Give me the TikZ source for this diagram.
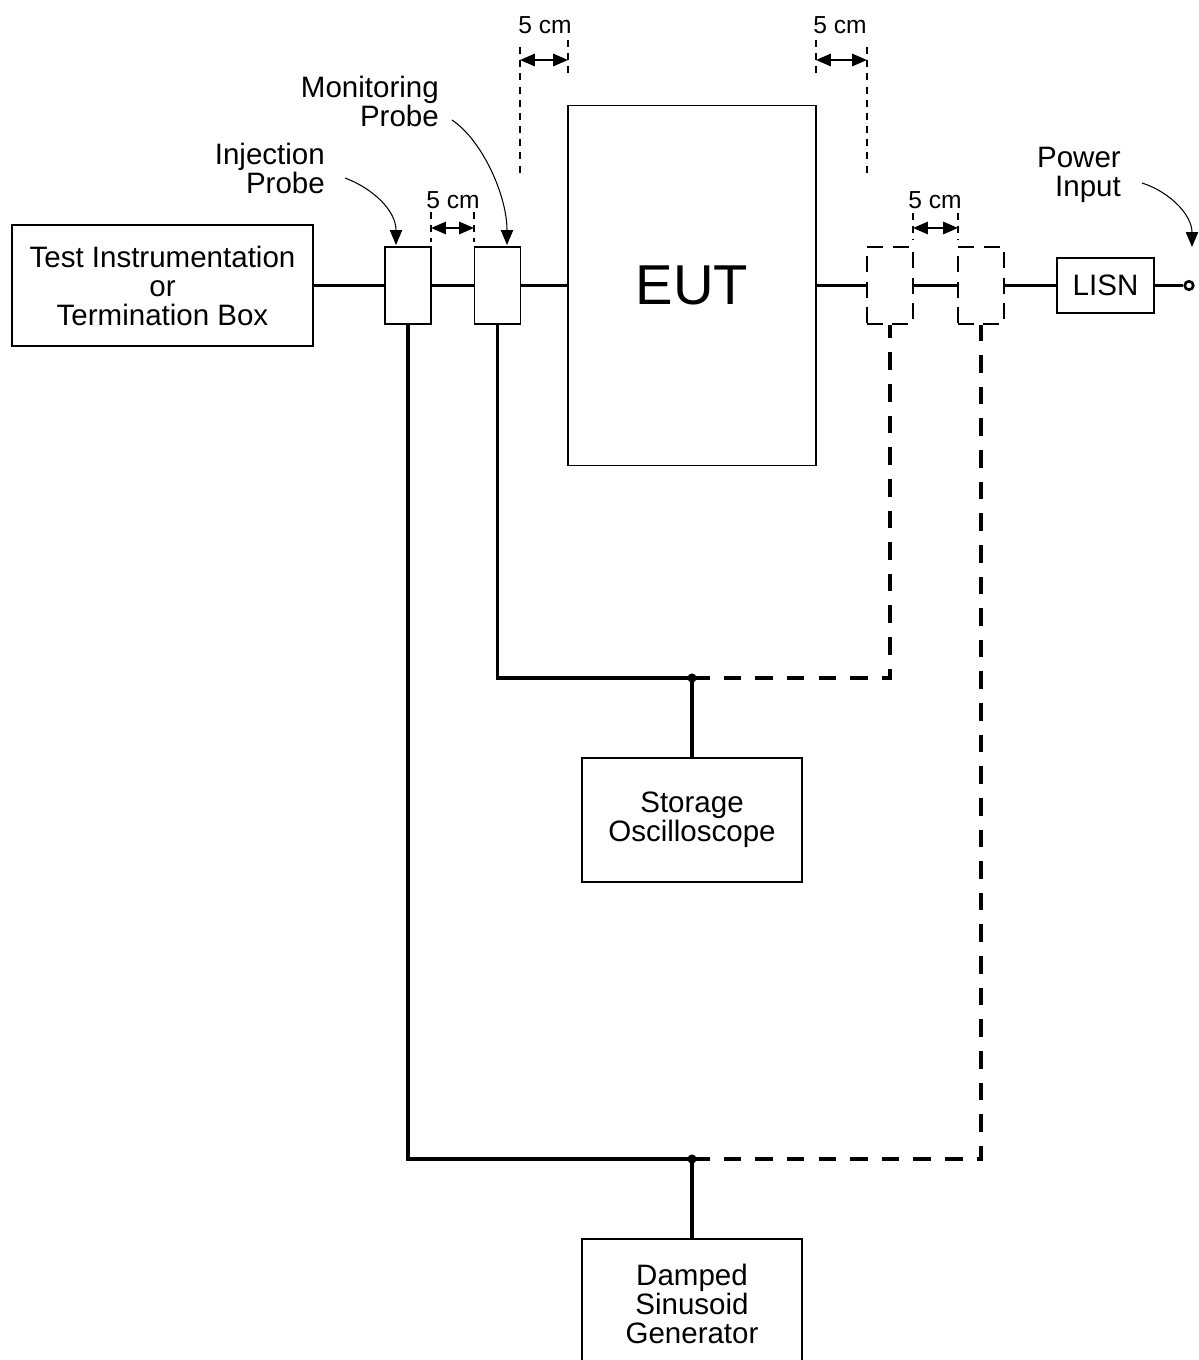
\documentclass[tikz,border=0pt]{standalone}
\usepackage{fontspec}
\setmainfont{Liberation Sans}
\usetikzlibrary{arrows.meta}

\tikzset{
  box/.style={draw,line width=1pt,inner sep=0pt,align=center,fill=white},
  probe/.style={box,minimum width=0.92cm,minimum height=1.54cm},
  dashprobe/.style={probe,line width=1.2pt,dash pattern=on 9pt off 5.5pt},
  wire/.style={line width=2.1pt},
  cable/.style={line width=2pt,dash pattern=on 10pt off 8pt},
  dimline/.style={line width=0.6pt,dash pattern=on 4pt off 3.5pt},
  dimarrow/.style={line width=1.2pt,{Triangle[length=8.5pt,width=7pt]}-{Triangle[length=8.5pt,width=7pt]}},
  pointer/.style={line width=0.6pt,-{Triangle[length=8.5pt,width=7pt]}},
  dimtext/.style={font=\fontsize{14}{14}\selectfont}
}

\begin{document}
\begin{tikzpicture}[line cap=butt,line join=miter,x=0.02cm,y=-0.02cm,font=\fontsize{16.8}{16.5}\selectfont]
		\clip(0,0) rectangle (1198,1360);
		% units and equipment
		\node[box,minimum width=6.02cm,minimum height=2.42cm] (test) at (162.5,285.5) {Test Instrumentation\\or\\Termination Box};
		\node[probe] (inj) at (408,285.5) {};
		\node[probe] (mon) at (497.5,285.5) {};
		\node[box,minimum width=4.96cm,minimum height=7.2cm,font=\fontsize{32}{32}\selectfont] (eut) at (692,285.5) {EUT};
		\node[dashprobe] (dpa) at (890,285.5) {};
		\node[dashprobe] (dpb) at (981,285.5) {};
		\node[box,minimum width=1.94cm,minimum height=1.1cm] (lisn) at (1105.5,285.5) {LISN};
		\node[circle,draw,line width=1.5pt,fill=white,inner sep=0pt,minimum size=0.17cm] (term) at (1189,285.5) {};
		\node[box,minimum width=4.4cm,minimum height=2.48cm] (scope) at (692,820) {Storage\\Oscilloscope};
		\node[box,minimum width=4.4cm,minimum height=2.6cm] (gen) at (692,1304) {Damped\\Sinusoid\\Generator};
		\coordinate (jo) at (scope.north |- 0,678);
		\coordinate (jg) at (gen.north |- 0,1159);
		% cables
		\draw[wire] (test) -- (inj);
		\draw[wire] (inj) -- (mon);
		\draw[wire] (mon) -- (eut);
		\draw[wire] (eut) -- (dpa);
		\draw[wire] (dpa) -- (dpb);
		\draw[wire] (dpb) -- (lisn);
		\draw[wire] (lisn) -- (term);
		\draw[wire] (mon.south) |- (jo) -- (scope.north);
		\draw[wire] (inj.south) |- (jg) -- (gen.north);
		\draw[cable] (jo) -| (dpa.south);
		\draw[cable] (jg) -| (dpb.south);
		\fill (jo) circle (2.6pt);
		\fill (jg) circle (2.6pt);
		% 5 cm spacings
		\foreach \x/\a/\b in {520/47/177,568/40/78,816/40/78,867/47/177,431/212/242,474/212/242,913/213/240,958/213/240}
			\draw[dimline] (\x,\a) -- (\x,\b);
		\draw[dimarrow] (520,60) -- (568,60);
		\draw[dimarrow] (816,60) -- (867,60);
		\draw[dimarrow] (431,228) -- (474,228);
		\draw[dimarrow] (913,228) -- (958,228);
		\node[dimtext] (dimeutl) at (545,25) {5 cm};
		\node[dimtext] (dimeutr) at (840,25) {5 cm};
		\node[dimtext] (dimprobe) at (453,200) {5 cm};
		\node[dimtext] (dimspare) at (935,200) {5 cm};
		% callouts
		\node[align=right,anchor=east] (injtext) at (331,168) {Injection\\Probe};
		\node[align=right,anchor=east] (montext) at (445,101) {Monitoring\\Probe};
		\node[align=right,anchor=east] (powtext) at (1127,175) {Power\\Input};
		\draw[pointer] (345,178) .. controls (372,188) and (396,210) .. (396,245);
		\draw[pointer] (452,120) .. controls (482,140) and (507,195) .. (507,245);
		\draw[pointer] (1142,183) .. controls (1170,192) and (1192,215) .. (1192,247);
	\end{tikzpicture}
\end{document}
